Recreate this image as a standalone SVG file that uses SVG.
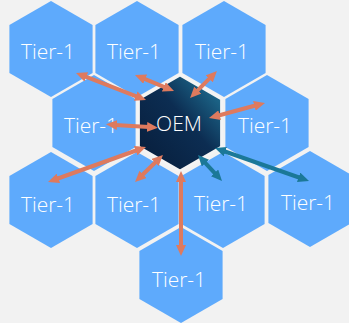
<svg xmlns="http://www.w3.org/2000/svg" xmlns:xlink="http://www.w3.org/1999/xlink" width="349" height="323" viewBox="0 0 349 323">
<style>
.hex{fill:#5eaafc;}
.oem{fill:url(#oemGrad);stroke:#f4f4f4;stroke-width:3;}
.lbl{font-family:"Open Sans","Liberation Sans",sans-serif;font-weight:300;font-size:21px;fill:#ffffff;text-anchor:middle;}
.ao{stroke:#de7a5e;stroke-width:4;fill:none;marker-start:url(#hO);marker-end:url(#hO);}
.at{stroke:#1b7898;stroke-width:4;fill:none;marker-start:url(#hT);marker-end:url(#hT);}
</style>
<defs>
<polygon id="hexShape" points="0,-48 41.6,-24 41.6,24 0,48 -41.6,24 -41.6,-24"/>
<linearGradient id="oemGrad" x1="0" y1="1" x2="1" y2="0">
<stop offset="0" stop-color="#071c39"/>
<stop offset="0.55" stop-color="#0c2d52"/>
<stop offset="1" stop-color="#237ea0"/>
</linearGradient>
<marker id="hO" viewBox="0 0 11 10" markerWidth="11" markerHeight="10" markerUnits="userSpaceOnUse" refX="2" refY="5" orient="auto-start-reverse">
<path d="M0,0 L11,5 L0,10 z" fill="#de7a5e"/>
</marker>
<marker id="hT" viewBox="0 0 11 10" markerWidth="11" markerHeight="10" markerUnits="userSpaceOnUse" refX="2" refY="5" orient="auto-start-reverse">
<path d="M0,0 L11,5 L0,10 z" fill="#1b7898"/>
</marker>
</defs>
<rect x="0" y="0" width="349" height="323" fill="#f2f2f2"/>
<g id="t1-r1a"><use xlink:href="#hexShape" href="#hexShape" class="hex" x="51" y="49"/><text class="lbl" x="48" y="59">Tier-1</text></g>
<g id="t1-r1b"><use xlink:href="#hexShape" href="#hexShape" class="hex" x="137" y="49"/><text class="lbl" x="134" y="59">Tier-1</text></g>
<g id="t1-r1c"><use xlink:href="#hexShape" href="#hexShape" class="hex" x="224" y="49"/><text class="lbl" x="222" y="59">Tier-1</text></g>
<g id="t1-r2a"><use xlink:href="#hexShape" href="#hexShape" class="hex" x="94" y="123"/><text class="lbl" x="91" y="133">Tier-1</text></g>
<g id="t1-r2c"><use xlink:href="#hexShape" href="#hexShape" class="hex" x="267" y="123"/><text class="lbl" x="265" y="133">Tier-1</text></g>
<g id="t1-r3a"><use xlink:href="#hexShape" href="#hexShape" class="hex" x="51" y="200"/><text class="lbl" x="48" y="212">Tier-1</text></g>
<g id="t1-r3b"><use xlink:href="#hexShape" href="#hexShape" class="hex" x="137" y="200"/><text class="lbl" x="134" y="212">Tier-1</text></g>
<g id="t1-r3c"><use xlink:href="#hexShape" href="#hexShape" class="hex" x="223" y="200"/><text class="lbl" x="221" y="211">Tier-1</text></g>
<g id="t1-r3d"><use xlink:href="#hexShape" href="#hexShape" class="hex" x="310" y="199"/><text class="lbl" x="308" y="210">Tier-1</text></g>
<g id="t1-r4"><use xlink:href="#hexShape" href="#hexShape" class="hex" x="181" y="275"/><text class="lbl" x="179" y="287">Tier-1</text></g>
<g id="oem"><use xlink:href="#hexShape" href="#hexShape" class="oem" x="180" y="123"/><text class="lbl" x="179" y="131">OEM</text></g>
<g id="connectors">
<line class="ao" x1="84.4" y1="76.2" x2="137.6" y2="96.8"/>
<line class="ao" x1="143.3" y1="78.4" x2="165.7" y2="87.6"/>
<line class="ao" x1="210.6" y1="77.4" x2="196.4" y2="91.6"/>
<line class="ao" x1="256.3" y1="105.3" x2="217.7" y2="115.7"/>
<line class="ao" x1="115" y1="124.9" x2="149" y2="127.1"/>
<line class="ao" x1="137.5" y1="150" x2="56.5" y2="179"/>
<line class="ao" x1="156.5" y1="161.2" x2="141.5" y2="175.8"/>
<line class="ao" x1="181" y1="180" x2="181" y2="247"/>
<line class="at" x1="204.1" y1="161.6" x2="215.9" y2="174.4"/>
<line class="at" x1="223.5" y1="151" x2="300.5" y2="178"/>
</g>
</svg>
